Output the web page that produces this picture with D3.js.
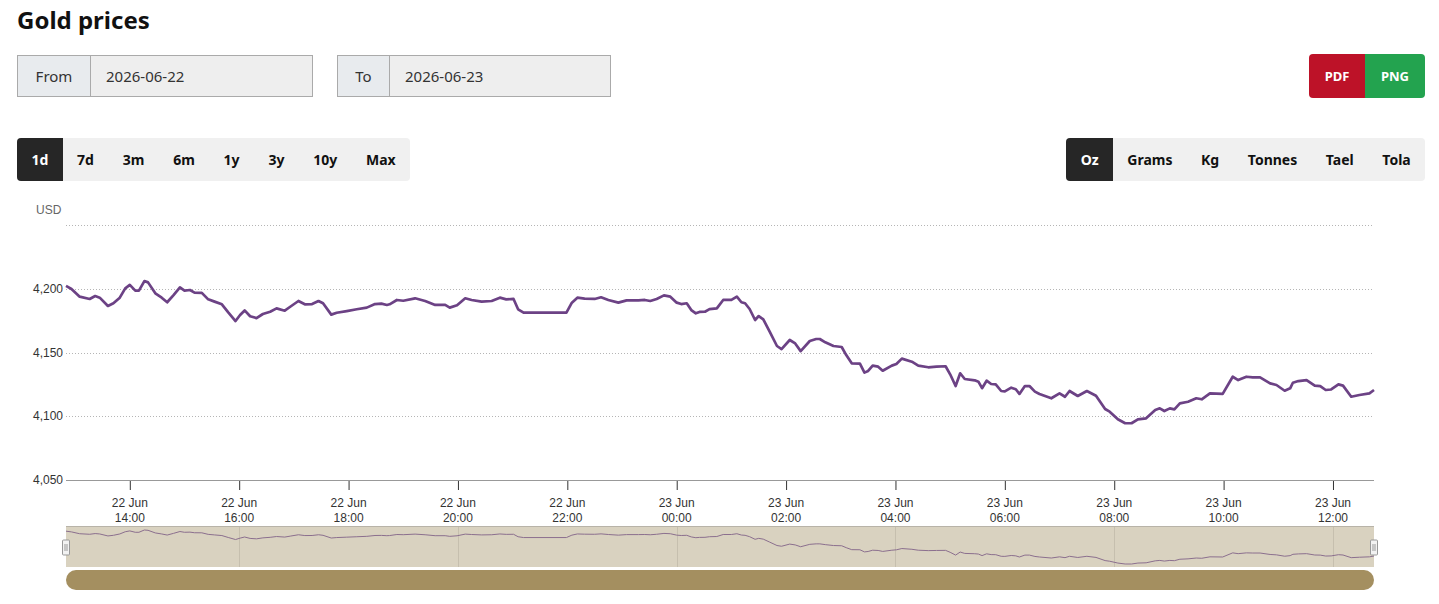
<!DOCTYPE html>
<html>
<head>
<meta charset="utf-8">
<script src="https://cdn.jsdelivr.net/npm/d3@7"></script>
<style>
  body { margin: 0; background: #fff; font-family: "Noto Sans", sans-serif; }
  #page { position: relative; width: 1439px; height: 604px; overflow: hidden; }
  #chart { position: absolute; left: 0; top: 0; }
  h1 { position: absolute; left: 17px; top: 3px; margin: 0; font-size: 24px; font-weight: 700; color: #111; }
  .date { position: absolute; top: 55px; height: 42px; display: flex; border: 1px solid #aaa; box-sizing: border-box;
          background: #eeeeee; font-size: 15px; color: #333; }
  .date .lab { background: #e8ebee; border-right: 1px solid #aaa; display: flex; align-items: center; justify-content: center; }
  .date .val { display: flex; align-items: center; padding-left: 15px; }
  .group { position: absolute; top: 138px; height: 43px; display: flex; background: #f0f0f0; border-radius: 4px; overflow: hidden; }
  .group div { padding: 0 14.4px; display: flex; align-items: center; font-weight: 700; font-size: 14px; color: #111; }
  .group.units div { padding: 0 14.3px; }
  .group .on { background: #262626; color: #fff; }
  .export { position: absolute; top: 54px; left: 1309px; height: 44px; display: flex; border-radius: 4px; overflow: hidden; }
  .export div { display: flex; align-items: center; justify-content: center; color: #fff; font-weight: 700; font-size: 13px; }
</style>
</head>
<body>
<div id="page">
  <svg id="chart" width="1439" height="604"></svg>
  <h1>Gold prices</h1>
  <div class="date" style="left:17px;width:296px"><div class="lab" style="width:72px">From</div><div class="val">2026-06-22</div></div>
  <div class="date" style="left:337px;width:274px"><div class="lab" style="width:51px">To</div><div class="val">2026-06-23</div></div>
  <div class="export"><div style="width:56px;background:#bd1228">PDF</div><div style="width:60px;background:#23a34f">PNG</div></div>
  <div class="group" id="ranges" style="left:17px"></div>
  <div class="group units" id="units" style="right:14px"></div>
</div>
<script>
"use strict"

// range / unit buttons
const ranges = ["1d", "7d", "3m", "6m", "1y", "3y", "10y", "Max"];
const units = ["Oz", "Grams", "Kg", "Tonnes", "Tael", "Tola"];

// price readings (USD / oz), 22 Jun 12:50 -> 23 Jun 12:45
const times = [
  "2026-06-22 12:50","2026-06-22 12:56","2026-06-22 13:05","2026-06-22 13:16","2026-06-22 13:22","2026-06-22 13:27",
  "2026-06-22 13:36","2026-06-22 13:42","2026-06-22 13:49","2026-06-22 13:55","2026-06-22 14:00","2026-06-22 14:06",
  "2026-06-22 14:10","2026-06-22 14:16","2026-06-22 14:20","2026-06-22 14:28","2026-06-22 14:35","2026-06-22 14:41",
  "2026-06-22 14:48","2026-06-22 14:55","2026-06-22 15:00","2026-06-22 15:06","2026-06-22 15:11","2026-06-22 15:19",
  "2026-06-22 15:26","2026-06-22 15:33","2026-06-22 15:41","2026-06-22 15:48","2026-06-22 15:56","2026-06-22 16:01",
  "2026-06-22 16:06","2026-06-22 16:12","2026-06-22 16:19","2026-06-22 16:26","2026-06-22 16:34","2026-06-22 16:41",
  "2026-06-22 16:50","2026-06-22 16:56","2026-06-22 17:05","2026-06-22 17:12","2026-06-22 17:20","2026-06-22 17:27",
  "2026-06-22 17:32","2026-06-22 17:41","2026-06-22 17:47","2026-06-22 17:58","2026-06-22 18:09","2026-06-22 18:20",
  "2026-06-22 18:29","2026-06-22 18:36","2026-06-22 18:42","2026-06-22 18:45","2026-06-22 18:53","2026-06-22 19:00",
  "2026-06-22 19:13","2026-06-22 19:24","2026-06-22 19:35","2026-06-22 19:46","2026-06-22 19:51","2026-06-22 19:59",
  "2026-06-22 20:08","2026-06-22 20:15","2026-06-22 20:26","2026-06-22 20:37","2026-06-22 20:46","2026-06-22 20:53",
  "2026-06-22 21:01","2026-06-22 21:06","2026-06-22 21:12","2026-06-22 21:59","2026-06-22 22:05","2026-06-22 22:11",
  "2026-06-22 22:19","2026-06-22 22:30","2026-06-22 22:37","2026-06-22 22:45","2026-06-22 22:56","2026-06-22 23:05",
  "2026-06-22 23:18","2026-06-22 23:25","2026-06-22 23:31","2026-06-22 23:38","2026-06-22 23:46","2026-06-22 23:53",
  "2026-06-23 00:00","2026-06-23 00:05","2026-06-23 00:11","2026-06-23 00:16","2026-06-23 00:21","2026-06-23 00:25",
  "2026-06-23 00:31","2026-06-23 00:36","2026-06-23 00:44","2026-06-23 00:51","2026-06-23 01:00","2026-06-23 01:06",
  "2026-06-23 01:11","2026-06-23 01:15","2026-06-23 01:20","2026-06-23 01:26","2026-06-23 01:30","2026-06-23 01:35",
  "2026-06-23 01:42","2026-06-23 01:50","2026-06-23 01:55","2026-06-23 02:04","2026-06-23 02:10","2026-06-23 02:16",
  "2026-06-23 02:26","2026-06-23 02:33","2026-06-23 02:37","2026-06-23 02:43","2026-06-23 02:52","2026-06-23 03:01",
  "2026-06-23 03:06","2026-06-23 03:12","2026-06-23 03:21","2026-06-23 03:26","2026-06-23 03:30","2026-06-23 03:35",
  "2026-06-23 03:41","2026-06-23 03:46","2026-06-23 03:56","2026-06-23 04:01","2026-06-23 04:07","2026-06-23 04:18",
  "2026-06-23 04:25","2026-06-23 04:36","2026-06-23 04:45","2026-06-23 04:55","2026-06-23 05:00","2026-06-23 05:06",
  "2026-06-23 05:11","2026-06-23 05:16","2026-06-23 05:27","2026-06-23 05:31","2026-06-23 05:35","2026-06-23 05:40",
  "2026-06-23 05:45","2026-06-23 05:50","2026-06-23 05:56","2026-06-23 06:00","2026-06-23 06:07","2026-06-23 06:12",
  "2026-06-23 06:16","2026-06-23 06:22","2026-06-23 06:27","2026-06-23 06:33","2026-06-23 06:38","2026-06-23 06:51",
  "2026-06-23 07:00","2026-06-23 07:06","2026-06-23 07:11","2026-06-23 07:20","2026-06-23 07:30","2026-06-23 07:40",
  "2026-06-23 07:50","2026-06-23 07:55","2026-06-23 08:04","2026-06-23 08:12","2026-06-23 08:19","2026-06-23 08:26",
  "2026-06-23 08:35","2026-06-23 08:45","2026-06-23 08:50","2026-06-23 08:55","2026-06-23 09:01","2026-06-23 09:06",
  "2026-06-23 09:12","2026-06-23 09:21","2026-06-23 09:30","2026-06-23 09:36","2026-06-23 09:45","2026-06-23 09:59",
  "2026-06-23 10:10","2026-06-23 10:16","2026-06-23 10:25","2026-06-23 10:32","2026-06-23 10:40","2026-06-23 10:51",
  "2026-06-23 10:58","2026-06-23 11:07","2026-06-23 11:13","2026-06-23 11:16","2026-06-23 11:22","2026-06-23 11:31",
  "2026-06-23 11:40","2026-06-23 11:46","2026-06-23 11:52","2026-06-23 11:58","2026-06-23 12:06","2026-06-23 12:11",
  "2026-06-23 12:20","2026-06-23 12:29","2026-06-23 12:40","2026-06-23 12:45"
];
const prices = [
  4202.2, 4199.8, 4193.8, 4192.0, 4194.3, 4193.0,
  4186.5, 4188.6, 4193.0, 4200.3, 4203.0, 4198.5,
  4198.5, 4206.0, 4205.0, 4196.4, 4193.0, 4189.4,
  4195.0, 4201.0, 4198.5, 4199.0, 4197.0, 4196.8,
  4191.7, 4189.9, 4187.8, 4181.5, 4174.7, 4179.4,
  4183.0, 4178.4, 4177.0, 4180.2, 4182.0, 4184.6,
  4182.8, 4185.9, 4190.4, 4187.8, 4188.0, 4190.4,
  4188.6, 4179.7, 4181.2, 4182.5, 4183.9, 4185.2,
  4188.0, 4188.3, 4187.3, 4187.8, 4191.2, 4190.6,
  4192.5, 4190.4, 4187.3, 4187.3, 4185.2, 4187.0,
  4192.5, 4191.2, 4189.9, 4190.4, 4193.0, 4191.7,
  4192.0, 4183.9, 4181.2, 4181.2, 4189.1, 4193.0,
  4192.3, 4192.0, 4193.3, 4191.2, 4189.1, 4190.9,
  4190.9, 4191.2, 4190.4, 4192.0, 4194.8, 4193.8,
  4189.1, 4188.0, 4188.6, 4183.3, 4180.7, 4181.8,
  4182.0, 4184.0, 4184.6, 4191.2, 4191.2, 4193.8,
  4189.4, 4188.6, 4184.1, 4175.5, 4178.6, 4176.0,
  4166.3, 4155.1, 4152.7, 4159.8, 4157.1, 4151.1,
  4159.0, 4160.6, 4160.6, 4158.0, 4155.1, 4154.3,
  4148.0, 4141.5, 4141.2, 4134.2, 4135.5, 4139.7,
  4138.9, 4135.7, 4139.7, 4141.0, 4145.2, 4142.8,
  4139.7, 4138.4, 4138.9, 4139.2, 4132.9, 4123.7,
  4133.7, 4129.2, 4128.2, 4127.1, 4122.0, 4127.9,
  4125.3, 4125.0, 4119.8, 4119.5, 4122.4, 4121.2,
  4117.5, 4123.7, 4123.7, 4119.3, 4117.5, 4114.1,
  4118.0, 4115.3, 4119.8, 4115.9, 4119.8, 4116.1,
  4105.7, 4103.6, 4097.6, 4094.5, 4094.5, 4097.6,
  4098.4, 4104.9, 4106.2, 4104.1, 4106.2, 4105.4,
  4110.1, 4111.4, 4114.1, 4113.3, 4118.0, 4117.5,
  4131.0, 4128.4, 4131.0, 4130.5, 4130.5, 4125.8,
  4124.5, 4120.0, 4121.9, 4126.3, 4127.6, 4128.4,
  4124.0, 4123.7, 4120.6, 4121.0, 4125.0, 4124.0,
  4115.3, 4116.7, 4118.0, 4120.6
];

// y axis
const yTicks = [4050, 4100, 4150, 4200, 4250];
const yDomain = [4050, 4250];

d3.select("#ranges").selectAll("div").data(ranges).join("div")
  .classed("on", (d, i) => i === 0).text(d => d);
d3.select("#units").selectAll("div").data(units).join("div")
  .classed("on", (d, i) => i === 0).text(d => d);

const parse = d3.timeParse("%Y-%m-%d %H:%M");
const data = times.map((t, i) => ({ date: parse(t), value: prices[i] }));

const plot = { left: 66, right: 1374, top: 225, bottom: 480 };
const nav = { top: 526, bottom: 567 };

const svg = d3.select("#chart");
const labelFont = "'Liberation Sans', Arial, sans-serif";

const x = d3.scaleTime()
  .domain(d3.extent(data, d => d.date))
  .range([plot.left, plot.right]);
const y = d3.scaleLinear().domain(yDomain).range([plot.bottom, plot.top]);

// gridlines
svg.append("g")
  .selectAll("line")
  .data(yTicks.slice(1))
  .join("line")
    .attr("x1", plot.left).attr("x2", plot.right)
    .attr("y1", d => Math.round(y(d)) + 0.5).attr("y2", d => Math.round(y(d)) + 0.5)
    .attr("stroke", "#b5b5b5")
    .attr("stroke-dasharray", "1,2");

// y labels (top one hidden like the original)
svg.append("g")
  .style("font", `12px ${labelFont}`)
  .attr("fill", "#333")
  .attr("text-anchor", "end")
  .selectAll("text")
  .data(yTicks.slice(0, -1))
  .join("text")
    .attr("x", plot.left - 3)
    .attr("y", d => y(d) + 4)
    .text(d => d3.format(",")(d));

svg.append("text")
  .attr("x", 36).attr("y", 214)
  .style("font", `12px ${labelFont}`)
  .attr("fill", "#666")
  .text("USD");

// x axis
const xAxis = svg.append("g")
  .attr("transform", `translate(0,${plot.bottom})`)
  .call(d3.axisBottom(x).ticks(d3.timeHour.every(2)).tickSize(10).tickFormat(""));
xAxis.select(".domain").attr("stroke", "#999").attr("d", `M${plot.left},0.5H${plot.right}`);
xAxis.selectAll(".tick line").attr("stroke", "#333").attr("y1", 1);

const tickDates = x.ticks(d3.timeHour.every(2));
const tl = svg.append("g")
  .style("font", `12px ${labelFont}`)
  .attr("fill", "#333")
  .attr("text-anchor", "middle")
  .selectAll("g")
  .data(tickDates)
  .join("g")
    .attr("transform", d => `translate(${x(d)},0)`);
tl.append("text").attr("y", 507).text(d3.timeFormat("%d %b"));
tl.append("text").attr("y", 522).text(d3.timeFormat("%H:%M"));

// price line
svg.append("path")
  .datum(data)
  .attr("fill", "none")
  .attr("stroke", "#6c4285")
  .attr("stroke-width", 2.7)
  .attr("stroke-linejoin", "round")
  .attr("d", d3.line().x(d => x(d.date)).y(d => y(d.value)));

// navigator
const yNav = d3.scaleLinear()
  .domain(d3.extent(data, d => d.value))
  .range([nav.bottom - 3, nav.top + 4]);

svg.append("rect")
  .attr("x", plot.left).attr("y", nav.top)
  .attr("width", plot.right - plot.left).attr("height", nav.bottom - nav.top)
  .attr("fill", "#d9d2c0");

svg.append("g")
  .selectAll("line")
  .data(x.ticks(d3.timeHour.every(4)))
  .join("line")
    .attr("x1", d => Math.round(x(d)) + 0.5).attr("x2", d => Math.round(x(d)) + 0.5)
    .attr("y1", nav.top).attr("y2", nav.bottom)
    .attr("stroke", "#c6bfae");

svg.append("line")
  .attr("x1", plot.left).attr("x2", plot.right)
  .attr("y1", nav.top + 0.5).attr("y2", nav.top + 0.5)
  .attr("stroke", "#b8b3a8");

svg.append("path")
  .datum(data)
  .attr("fill", "none")
  .attr("stroke", "#8b6f8e")
  .attr("stroke-width", 1)
  .attr("d", d3.line().x(d => x(d.date)).y(d => yNav(d.value)));

// handles
const handles = svg.append("g")
  .selectAll("g")
  .data([plot.left, plot.right])
  .join("g")
    .attr("transform", d => `translate(${d - 3.5},540)`);
handles.append("rect")
  .attr("width", 7).attr("height", 15).attr("rx", 1)
  .attr("fill", "#f2f2f2").attr("stroke", "#999");
handles.selectAll("line")
  .data([2.5, 4.5])
  .join("line")
    .attr("x1", d => d).attr("x2", d => d)
    .attr("y1", 4).attr("y2", 11)
    .attr("stroke", "#999");

// scrollbar
svg.append("rect")
  .attr("x", plot.left).attr("y", 570)
  .attr("width", plot.right - plot.left).attr("height", 20)
  .attr("rx", 10)
  .attr("fill", "#a48f60");
</script>
</body>
</html>
